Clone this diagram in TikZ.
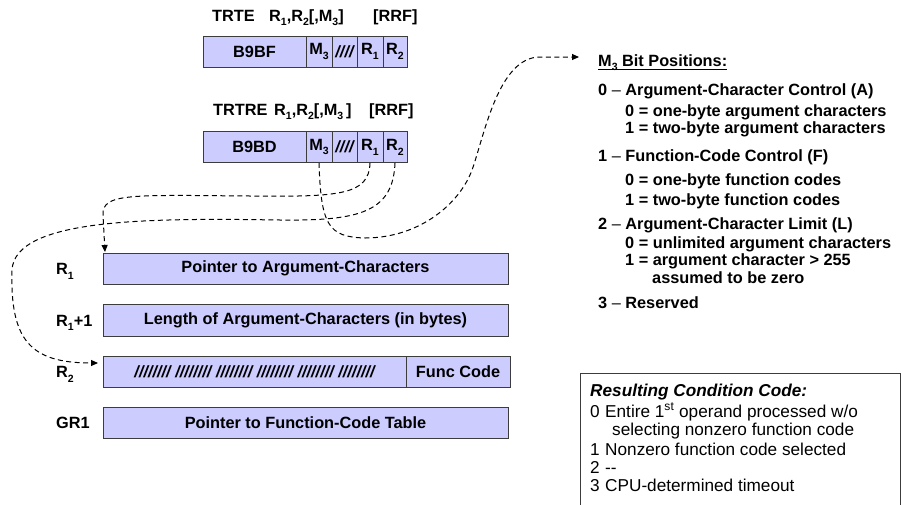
\documentclass[tikz,border=0pt]{standalone}
\usepackage{fontspec}
\setmainfont{Liberation Sans}
\usetikzlibrary{arrows.meta}
\definecolor{boxfill}{RGB}{204,204,255}
\definecolor{edge}{RGB}{60,60,60}
\newcommand\lowsub[1]{\raisebox{-0.3em}{\fontsize{10.5}{10.5}\selectfont #1}}
\newcommand\bfnt{\fontsize{16.3}{19}\selectfont\bfseries}
\newcommand\rfnt{\fontsize{17.2}{20}\selectfont}
\newcommand\thindash{{\mdseries\textendash}}

\begin{document}
\begin{tikzpicture}[x=1pt,y=-1pt,
  cell/.style={draw=edge, line width=0.9pt, fill=boxfill, inner sep=0pt,
               minimum height=31pt, font=\bfnt},
  lbl/.style={inner sep=0pt, anchor=base west, font=\bfnt},
  ccl/.style={inner sep=0pt, anchor=base west, font=\rfnt},
  link/.style={dashed, dash pattern=on 5pt off 3.5pt, line width=1pt,
               -{Triangle[length=7pt,width=6pt]}}]
\useasboundingbox (0,0) rectangle (901,504);

% ---- TRTE instruction format ----
\node[lbl] (t1op)  at (212,21) {TRTE};
\node[lbl] (t1arg) at (269,21) {R\lowsub{1},R\lowsub{2}[,M\lowsub{3}]};
\node[lbl] (t1fmt) at (373,21) {[RRF]};
\node[cell, minimum width=103pt] (op1) at (254.5,51.5) {B9BF};
\node[cell, minimum width=26pt]  (m1)  at (319,51.5) {M\lowsub{3}};
\node[cell, minimum width=25pt]  (h1)  at (344.5,51.5) {\itshape ////};
\node[cell, minimum width=26pt]  (ra1) at (370,51.5) {R\lowsub{1}};
\node[cell, minimum width=24pt]  (rb1) at (395,51.5) {R\lowsub{2}};

% ---- TRTRE instruction format ----
\node[lbl] (t2op)  at (213,115) {TRTRE};
\node[lbl] (t2arg) at (274,115) {R\lowsub{1},R\lowsub{2}[,M\lowsub{3}\,]};
\node[lbl] (t2fmt) at (369,115) {[RRF]};
\node[cell, minimum width=103pt] (op2) at (254.5,147) {B9BD};
\node[cell, minimum width=26pt]  (m2)  at (319,147) {M\lowsub{3}};
\node[cell, minimum width=25pt]  (h2)  at (344.5,147) {\itshape ////};
\node[cell, minimum width=26pt]  (ra2) at (370,147) {R\lowsub{1}};
\node[cell, minimum width=24pt]  (rb2) at (395,147) {R\lowsub{2}};

% ---- registers ----
\node[lbl] (l1) at (56,274.5) {R\lowsub{1}};
\node[lbl] (l2) at (56,326) {R\lowsub{1}+1};
\node[lbl] (l3) at (56,377.5) {R\lowsub{2}};
\node[lbl] (l4) at (56,428.5) {GR1};
\node[cell, minimum width=405pt] (reg1) at (305.5,268.5) {Pointer to Argument-Characters};
\node[cell, minimum width=405pt, minimum height=32pt] (reg2) at (305.5,320) {Length of Argument-Characters (in bytes)};
\node[cell, minimum width=303pt] (reg3a) at (254.5,371.5) {\itshape //////// //////// //////// //////// //////// ////////};
\node[cell, minimum width=104pt] (reg3b) at (458,371.5) {Func Code};
\node[cell, minimum width=405pt] (reg4) at (305.5,422.5) {Pointer to Function-Code Table};

% ---- M3 bit positions ----
\node[lbl] (bits) at (598,66) {M\lowsub{3} Bit Positions:};
\draw[line width=0.9pt] ([yshift=-3pt]bits.base west) -- ([yshift=-3pt]bits.base east);
\node[lbl] (b0)  at (598,95)  {0 \thindash{} Argument-Character Control (A)};
\node[lbl] (b0a) at (625,116) {0 = one-byte argument characters};
\node[lbl] (b0b) at (625,133) {1 = two-byte argument characters};
\node[lbl] (b1)  at (598,161) {1 \thindash{} Function-Code Control (F)};
\node[lbl] (b1a) at (625,185) {0 = one-byte function codes};
\node[lbl] (b1b) at (625,205) {1 = two-byte function codes};
\node[lbl] (b2)  at (598,229) {2 \thindash{} Argument-Character Limit (L)};
\node[lbl] (b2a) at (625,248) {0 = unlimited argument characters};
\node[lbl] (b2b) at (625,265) {1 = argument character > 255};
\node[lbl] (b2c) at (652,283) {assumed to be zero};
\node[lbl] (b3)  at (598,308) {3 \thindash{} Reserved};

% ---- resulting condition code ----
\node[draw=edge, line width=0.9pt, inner sep=0pt, minimum width=320pt, minimum height=140pt,
      anchor=north west] (ccbox) at (580,373) {};
\node[ccl, font=\rfnt\bfseries\itshape] (cct) at (590,396) {Resulting Condition Code:};
\node[ccl] (c0n) at (590,417) {0};
\node[ccl] (c0t) at (605,417) {Entire 1\textsuperscript{st} operand processed w/o};
\node[ccl] (c0u) at (612,435) {selecting nonzero function code};
\node[ccl] (c1n) at (590,455) {1};
\node[ccl] (c1t) at (605,455) {Nonzero function code selected};
\node[ccl] (c2n) at (590,473) {2};
\node[ccl] (c2t) at (605,473) {-{}-};
\node[ccl] (c3n) at (590,491) {3};
\node[ccl] (c3t) at (605,491) {CPU-determined timeout};

% ---- connectors ----
\coordinate (bittip) at (579,57);
\coordinate (r1in) at (105,252);
\coordinate (r2in) at (98,363);
\draw[link] (m2.south) .. controls (321,225) and (328,237) .. (365,238)
  .. controls (420,238) and (460,203) .. (472,170)
  .. controls (484,137) and (498,57) .. (540,57) -- (bittip);
\draw[link] (ra2.south) .. controls (369,195) and (340,197) .. (250,196)
  .. controls (130,195) and (102,193) .. (103,215) -- (r1in);
\draw[link] (rb2.south) .. controls (393,212) and (360,221) .. (280,220)
  .. controls (150,218) and (15,218) .. (12,270)
  .. controls (10,340) and (30,363) .. (r2in);
\end{tikzpicture}
\end{document}
